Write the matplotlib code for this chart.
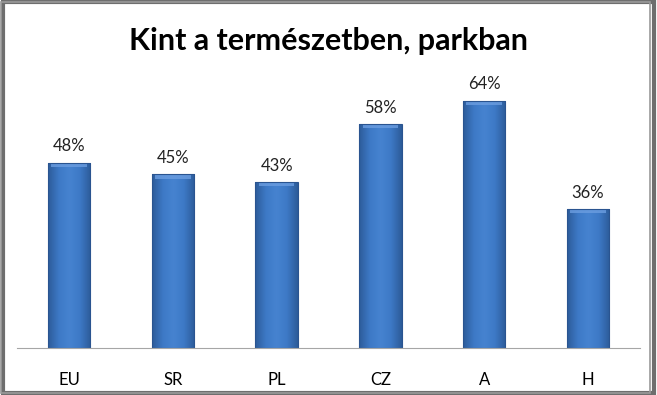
import numpy as np
import matplotlib.pyplot as plt
from matplotlib.patches import Rectangle
from matplotlib.colors import LinearSegmentedColormap

plt.rcParams["font.family"] = ["Lato", "DejaVu Sans"]

categories = ["EU", "SR", "PL", "CZ", "A", "H"]
values = [0.48, 0.45, 0.43, 0.58, 0.64, 0.36]
labels = ["48%", "45%", "43%", "58%", "64%", "36%"]

fig = plt.figure(figsize=(6.57, 3.95), dpi=100)
ax = fig.add_axes([0.026, 0.119, 0.948, 0.684])

x = np.arange(len(categories))
bars = ax.bar(x, values, width=0.41, color="#3b73bd", zorder=2)

# horizontal shading so the bars look rounded like the original
cmap = LinearSegmentedColormap.from_list(
    "barshade", ["#2d5c9a", "#3d79c6", "#4683d0", "#3d79c6", "#2d5c9a"])
grad = np.linspace(0, 1, 64).reshape(1, -1)
for b in bars:
    x0, w, h = b.get_x(), b.get_width(), b.get_height()
    im = ax.imshow(grad, cmap=cmap, aspect="auto", extent=[x0, x0 + w, 0, h],
                   zorder=3)
    im.set_clip_path(b)
    # soft bevel at the top
    ax.add_patch(Rectangle((x0 + w * 0.08, h - 0.011), w * 0.84, 0.009,
                           facecolor="#6b9de0", edgecolor="none", alpha=0.8, zorder=4))
    ax.add_patch(Rectangle((x0, 0), w, h, facecolor="none",
                           edgecolor="#2a5490", linewidth=0.8, zorder=5))

for xi, v, lab in zip(x, values, labels):
    ax.text(xi, v + 0.022, lab, ha="center", va="bottom", fontsize=12,
            color="#222222")

ax.set_xlim(-0.5, len(categories) - 0.5)
ax.set_ylim(0, 0.7)
ax.set_xticks(x)
ax.set_xticklabels(categories, fontsize=12)
ax.tick_params(axis="x", length=0, pad=17)
ax.set_yticks([])
for s in ["top", "right", "left"]:
    ax.spines[s].set_visible(False)
ax.spines["bottom"].set_color("#a6a6a6")
ax.spines["bottom"].set_zorder(6)

fig.text(0.5, 0.897, "Kint a természetben, parkban", ha="center", va="center",
         fontsize=22, fontweight="bold")

# chart frame with a soft shadow
fig.patches.append(Rectangle((0.004, 0.006), 0.992, 0.99, transform=fig.transFigure,
                             facecolor="none", edgecolor="#6e6e6e", linewidth=3))
fig.patches.append(Rectangle((0.002, 0.004), 0.988, 0.99, transform=fig.transFigure,
                             facecolor="none", edgecolor="#9a9a9a", linewidth=1.2))

fig.savefig("out.png", dpi=100)
